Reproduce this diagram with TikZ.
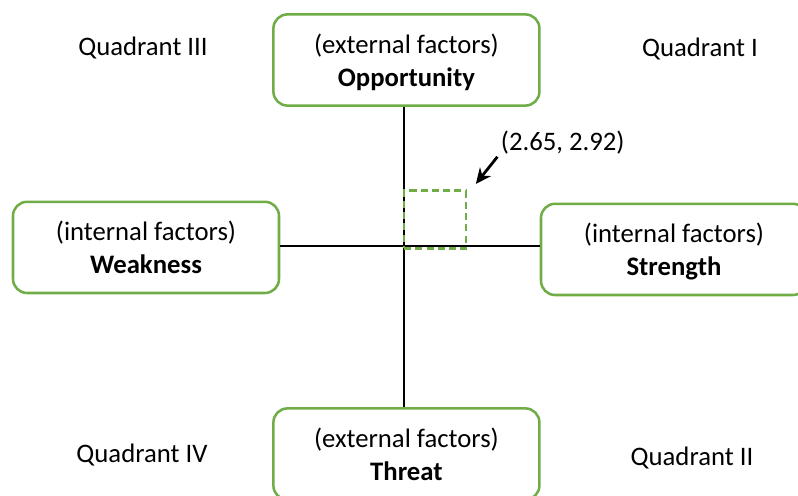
\documentclass[tikz,border=0pt]{standalone}
\usepackage{fontspec}
\setmainfont{Carlito}
\usepackage{tikz}
\usetikzlibrary{positioning,arrows.meta,calc}
\definecolor{swotgreen}{RGB}{112,173,71}

\begin{document}
\begin{tikzpicture}[
  every node/.style={font=\fontsize{19}{23.5}\selectfont},
  factor/.style={draw=swotgreen, line width=1.8pt, rounded corners=10pt, minimum width=6.65cm, minimum height=2.28cm, align=center, inner sep=0pt, text depth=0pt},
  quad/.style={text=black},
  focusbox/.style={draw=swotgreen, line width=2pt, dashed, dash pattern=on 5pt off 3pt, minimum width=1.55cm, minimum height=1.43cm, inner sep=0pt},
  axis/.style={black, line width=0.8pt},
  arr/.style={-{Stealth[length=11pt, width=10pt]}, line width=2pt, black},
]
\useasboundingbox (0,0) rectangle (19.95,12.375);

% === Factors ===
\node[factor] (opp) at (10.16, 10.875) {(external factors)\\\textbf{Opportunity}};
\node[factor] (weak) at (3.65, 6.19) {(internal factors)\\\textbf{Weakness}};
\node[factor] (str) at (16.85, 6.14) {(internal factors)\\\textbf{Strength}};
\node[factor] (thr) at (10.16, 1.025) {(external factors)\\\textbf{Threat}};

% === Quadrants ===
\node[quad] (q3) at (3.575, 11.175) {Quadrant III};
\node[quad] (q1) at (17.5, 11.15) {Quadrant I};
\node[quad] (q4) at (3.55, 1.0) {Quadrant IV};
\node[quad] (q2) at (17.3, 0.925) {Quadrant II};

% === Axes ===
\coordinate (origin) at (10.1, 6.225);
\draw[axis] (origin |- opp.south) -- (origin |- thr.north);
\draw[axis] (weak.east |- origin) -- (str.west |- origin);

% === Point ===
\node[focusbox] (focus) at (10.875, 6.8875) {};
\node[anchor=west] (pt) at (12.4, 8.8) {(2.65, 2.92)};
\draw[arr] ([xshift=1pt, yshift=2pt]pt.south west) -- ([xshift=6pt, yshift=4pt]focus.north east);

\end{tikzpicture}
\end{document}
